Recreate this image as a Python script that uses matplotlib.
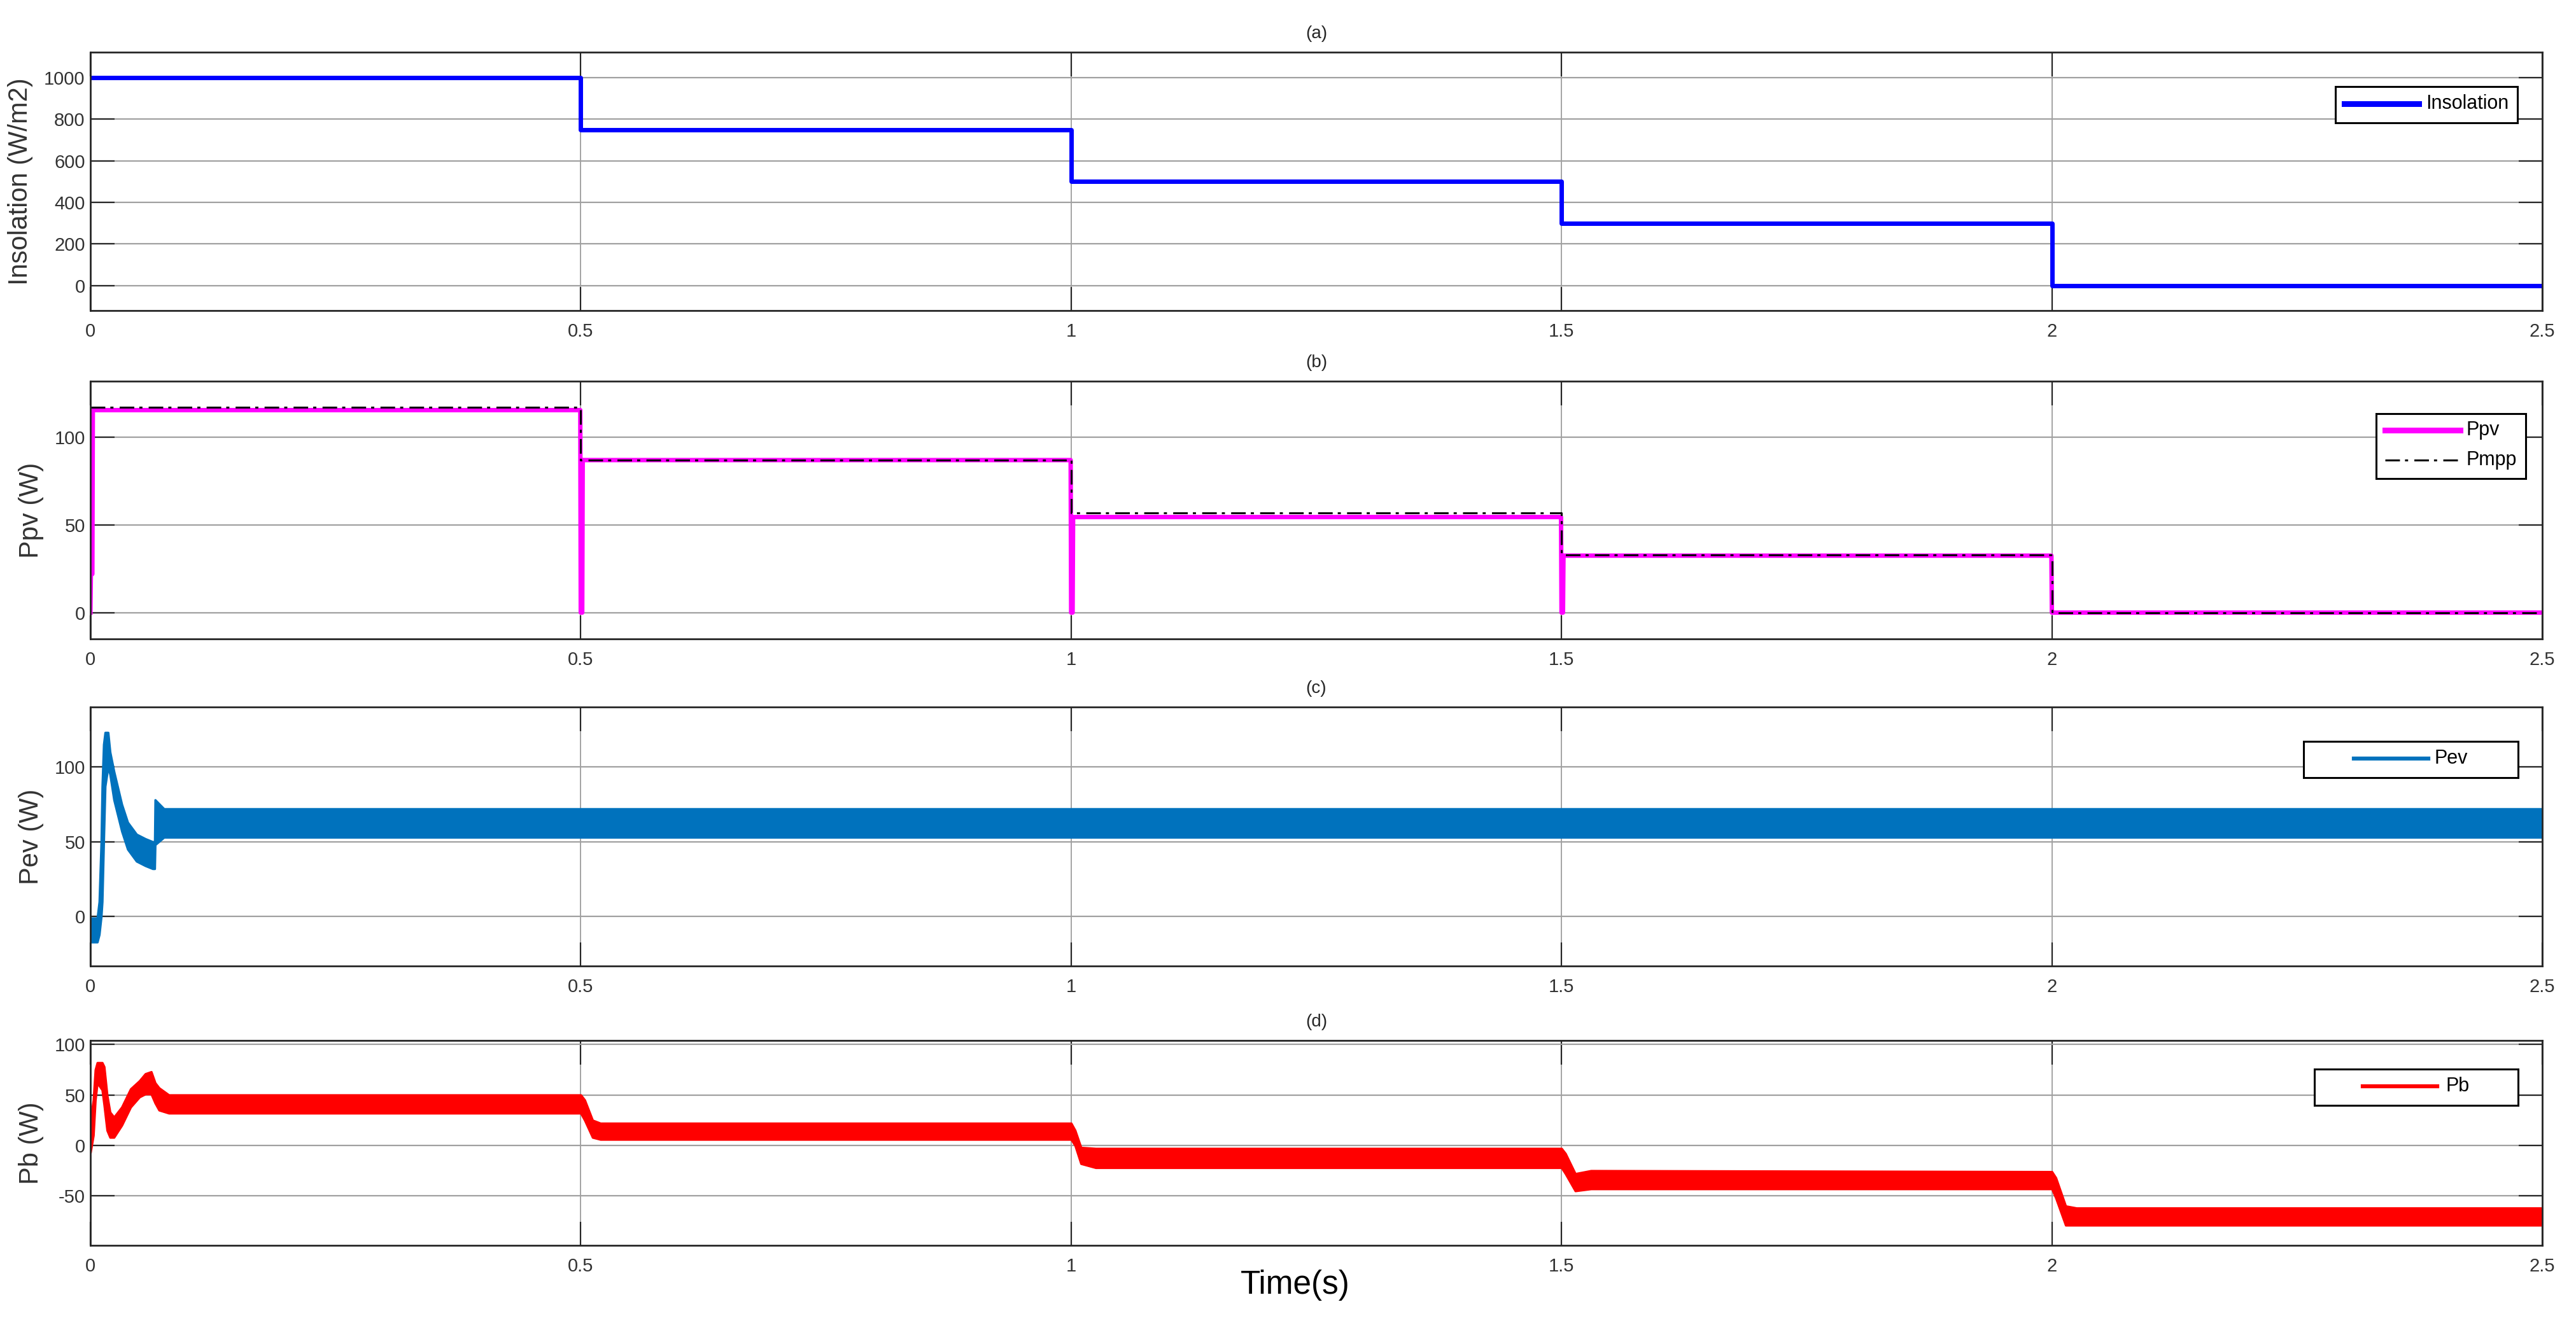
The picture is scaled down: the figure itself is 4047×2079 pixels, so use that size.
import matplotlib
matplotlib.use('Agg')
import matplotlib.pyplot as plt
from matplotlib.patches import Rectangle
from matplotlib.lines import Line2D

W, H, DPI = 4048, 2079, 100
plt.rcParams['font.family'] = ['Liberation Sans', 'DejaVu Sans']
plt.rcParams['axes.unicode_minus'] = False

# ---------------- data ----------------
x_ticks = [0, 0.5, 1, 1.5, 2, 2.5]
x_tick_labels = ['0', '0.5', '1', '1.5', '2', '2.5']
panel_titles = ['(a)', '(b)', '(c)', '(d)']
y_labels = ['Insolation (W/m2)', 'Ppv (W)', 'Pev (W)', 'Pb (W)']
y_ticks = [[0, 200, 400, 600, 800, 1000], [0, 50, 100], [0, 50, 100], [-50, 0, 50, 100]]
y_limits = [(-120, 1122), (-15, 132), (-33, 140), (-99, 104)]

# (a) insolation steps
ins_t = [0, 0.5, 1.0, 1.5, 2.0, 2.5]
ins_v = [1000, 750, 500, 300, 0, 0]

# (b) PV power (with dips to zero at each irradiance change) and MPP reference
ppv_t = [0, 0.0005, 0.002, 0.0025, 0.4995, 0.5, 0.5015, 0.502, 0.9995, 1.0, 1.0015, 1.002,
         1.4995, 1.5, 1.5015, 1.502, 1.9995, 2.0, 2.5]
ppv_v = [0, 22, 22, 115.5, 115.5, 0, 0, 87, 87, 0, 0, 54.5, 54.5, 0, 0, 32.5, 32.5, 0, 0]
pmpp_t = [0, 0.5, 1.0, 1.5, 2.0, 2.5]
pmpp_v = [117, 87, 57, 33, 0, 0]

# (c) EV power: envelope (lower / upper) of the ripple band
pev_t = [0, 0.007, 0.009, 0.011, 0.012, 0.0135, 0.015, 0.018, 0.020, 0.024, 0.032, 0.038,
         0.047, 0.056, 0.0635, 0.0655, 0.066, 0.075, 2.5]
pev_lo = [-17, -17, -12, 0, 10, 50, 87, 100, 95, 78, 57, 45, 37, 34, 32, 32, 48, 53, 53]
pev_hi = [-1, -1, 10, 50, 87, 115, 123, 123, 110, 97, 75, 63, 55, 52, 50, 50, 78, 72, 72]

# (d) battery power: envelope (lower / upper) of the ripple band
pb_t = [0, 0.003, 0.005, 0.007, 0.012, 0.014, 0.017, 0.020, 0.024, 0.032, 0.041, 0.050,
        0.056, 0.062, 0.066, 0.070, 0.080, 0.500, 0.504, 0.512, 0.520, 1.000, 1.004, 1.010,
        1.025, 1.500, 1.504, 1.514, 1.530, 2.000, 2.004, 2.014, 2.025, 2.500]
pb_lo = [-7, 10, 45, 62, 55, 40, 15, 8, 8, 20, 38, 48, 51, 51, 42, 35, 32, 32, 25, 8, 6, 6,
         0, -18, -22, -22, -28, -45, -43, -43, -52, -79, -79, -79]
pb_hi = [25, 45, 75, 82, 82, 78, 50, 33, 28, 38, 56, 64, 71, 73, 62, 57, 50, 50, 45, 25, 22, 22,
         15, -2, -3, -3, -8, -28, -25, -26, -32, -60, -62, -62]

legend_labels = [['Insolation'], ['Ppv', 'Pmpp'], ['Pev'], ['Pb']]

# ---------------- styles ----------------
C_INS = '#0000FF'
C_PPV = '#FF00FF'
C_PEV = '#0072BD'
C_PB = '#FF0000'
DARK = '#262626'
DASHDOT = (0, (7.5, 2.6, 1.6, 3.2))

fig = plt.figure(figsize=(W / DPI, H / DPI), dpi=DPI)

# axes boxes in pixel units (left, top, right, bottom)
boxes = [(142, 82, 3994, 488), (142, 599, 3994, 1004), (142, 1111, 3994, 1518), (142, 1635, 3994, 1957)]
axes = []
for (l, t, r, b) in boxes:
    ax = fig.add_axes([l / W, 1 - b / H, (r - l) / W, (b - t) / H])
    axes.append(ax)

ax_a, ax_b, ax_c, ax_d = axes
ax_a.plot(ins_t, ins_v, drawstyle='steps-post', color=C_INS, lw=5)
ax_b.plot(ppv_t, ppv_v, color=C_PPV, lw=5)
ax_b.plot(pmpp_t, pmpp_v, drawstyle='steps-post', color='black', lw=2.2, ls=DASHDOT)
ax_c.fill_between(pev_t, pev_lo, pev_hi, color=C_PEV, lw=2.5)
ax_d.fill_between(pb_t, pb_lo, pb_hi, color=C_PB, lw=2.5)

for i, ax in enumerate(axes):
    ax.set_xlim(0, 2.5)
    ax.set_ylim(*y_limits[i])
    ax.set_xticks(x_ticks)
    ax.set_xticklabels(x_tick_labels)
    ax.set_yticks(y_ticks[i])
    ax.set_yticklabels([str(v) for v in y_ticks[i]])
    ax.set_axisbelow(True)
    ax.grid(True, axis='y', color='#a0a0a0', lw=1.6)
    ax.grid(True, axis='x', color='#8c8c8c', lw=1.1)
    ax.tick_params(direction='in', length=27, width=1.6, top=True, right=True,
                   color=DARK, labelcolor='#333333', labelsize=21)
    ax.tick_params(axis='x', pad=14)
    ax.tick_params(axis='y', pad=6)
    for s in ax.spines.values():
        s.set_linewidth(2.0)
        s.set_color(DARK)
    ax.set_title(panel_titles[i], fontsize=20, color=DARK, pad=16)
    ax.set_ylabel(y_labels[i], fontsize=30, color='#333333', labelpad=12)

fig.text(2035 / W, 1 - 2020 / H, 'Time(s)', ha='center', va='center', fontsize=37, color='black')

# ---------------- legends (MATLAB-like boxes) ----------------
def fx(x):
    return x / W


def fy(y):
    return 1 - y / H


def legend_box(x0, y0, x1, y1):
    fig.add_artist(Rectangle((fx(x0), fy(y1)), (x1 - x0) / W, (y1 - y0) / H,
                             transform=fig.transFigure, facecolor='white',
                             edgecolor='black', lw=2.2, zorder=5))


def legend_entry(lx0, lx1, y, tx, label, **style):
    fig.add_artist(Line2D([fx(lx0), fx(lx1)], [fy(y), fy(y)], transform=fig.transFigure,
                          zorder=6, **style))
    fig.text(fx(tx), fy(y), label, ha='left', va='center', fontsize=22, color='black', zorder=7)


legend_box(3669, 136, 3955, 193)
legend_entry(3683, 3800, 163, 3811, legend_labels[0][0], color=C_INS, lw=6.5)

legend_box(3733, 650, 3968, 752)
legend_entry(3747, 3865, 676, 3875, legend_labels[1][0], color=C_PPV, lw=6.5)
legend_entry(3747, 3865, 723, 3875, legend_labels[1][1], color='black', lw=2.2, ls=DASHDOT)

legend_box(3619, 1165, 3956, 1222)
legend_entry(3698, 3815, 1192, 3825, legend_labels[2][0], color=C_PEV, lw=4.5)

legend_box(3636, 1680, 3956, 1737)
legend_entry(3712, 3829, 1707, 3843, legend_labels[3][0], color=C_PB, lw=4.5)

fig.savefig('out.png', dpi=DPI)
